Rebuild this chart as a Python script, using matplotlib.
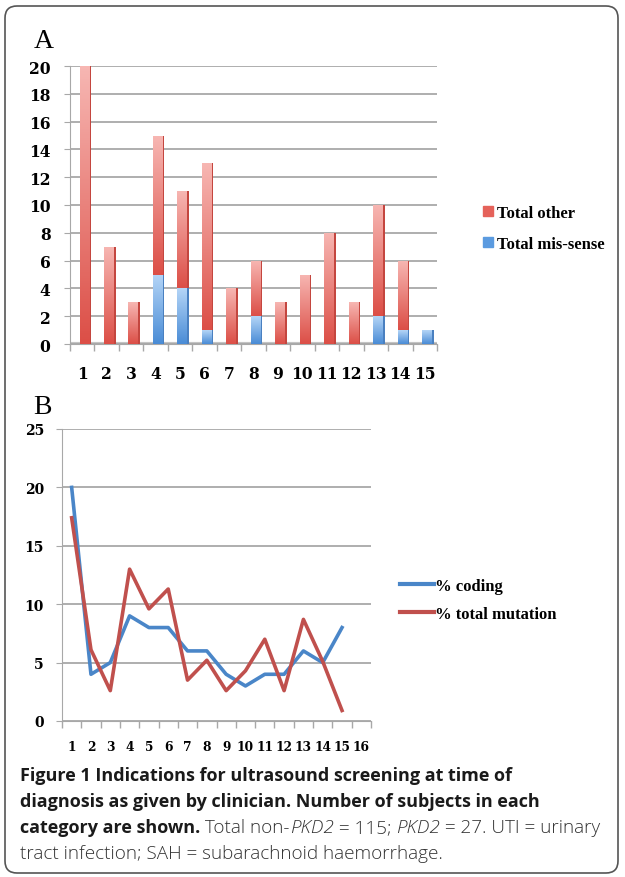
import numpy as np
import matplotlib
matplotlib.use("Agg")
import matplotlib.pyplot as plt
from matplotlib.colors import LinearSegmentedColormap
from matplotlib.patches import FancyBboxPatch, Patch
from matplotlib.lines import Line2D
from matplotlib.transforms import IdentityTransform

# ---- data (panel A: counts per indication, panel B: percentages) ----
categories = list(range(1, 16))
total_mis_sense = [0, 0, 0, 5, 4, 1, 0, 2, 0, 0, 0, 0, 2, 1, 1]
total_other = [20, 7, 3, 10, 7, 12, 4, 4, 3, 5, 8, 3, 8, 5, 0]

b_ticks = list(range(1, 17))
pct_coding = [20, 4, 5, 9, 8, 8, 6, 6, 4, 3, 4, 4, 6, 5, 8]
pct_total_mutation = [17.4, 6.1, 2.6, 13.0, 9.6, 11.3, 3.5, 5.2, 2.6, 4.3, 7.0, 2.6, 8.7, 5.1, 0.9]

W, H = 625, 878
fig = plt.figure(figsize=(W / 100, H / 100), dpi=100)

serif = "Liberation Serif"
tickfont = "DejaVu Serif"
grid_col = "#a8a8a8"


def shade(ax, bars, light, dark):
    # vertical gradient on each bar, like the excel 3d look
    cmap = LinearSegmentedColormap.from_list("g", [dark, light])
    grad = np.linspace(0, 1, 64).reshape(-1, 1)
    for b in bars:
        if b.get_height() <= 0:
            continue
        x0, y0 = b.get_x(), b.get_y()
        im = ax.imshow(grad, cmap=cmap, origin="lower", aspect="auto",
                       extent=[x0, x0 + b.get_width(), y0, y0 + b.get_height()],
                       zorder=b.get_zorder(), interpolation="bilinear")
        im.set_clip_path(b)
        b.set_facecolor("none")


def style_labels(labels, size):
    for lab in labels:
        lab.set_fontfamily(tickfont)
        lab.set_fontweight("bold")
        lab.set_fontsize(size)


# ---------------- panel A ----------------
axA = fig.add_axes([70 / W, 1 - 345 / H, 367 / W, 278 / H])
x = np.array(categories) + 0.08
fw = 0.38
sw = 0.09
b1 = axA.bar(x, total_mis_sense, width=fw, color="#5b9be0", zorder=3, linewidth=0)
b2 = axA.bar(x, total_other, width=fw, bottom=total_mis_sense, color="#e5625a", zorder=3, linewidth=0)
# side faces
axA.bar(x + fw / 2 + sw / 2, total_mis_sense, width=sw, color="#4a80c0", zorder=3, linewidth=0)
axA.bar(x + fw / 2 + sw / 2, total_other, width=sw, bottom=total_mis_sense, color="#c4463f", zorder=3, linewidth=0)
shade(axA, b1, "#b4d5f7", "#4a8cd6")
shade(axA, b2, "#f7b6b2", "#dc4f47")

axA.set_xlim(0.5, 15.5)
axA.set_ylim(0, 20)
axA.set_yticks(range(0, 21, 2))
axA.set_xticks(categories)
axA.set_xticks(np.arange(0.5, 16, 1), minor=True)
axA.tick_params(axis="x", which="major", length=0, pad=15)
axA.tick_params(axis="x", which="minor", length=5, color=grid_col, width=1)
axA.tick_params(axis="y", length=4, color=grid_col, pad=10)
axA.yaxis.grid(True, color=grid_col, lw=1.3, zorder=0)
axA.axhline(0, color="#c4c4c4", lw=3, zorder=1)
for s in ["top", "right"]:
    axA.spines[s].set_visible(False)
for s in ["left", "bottom"]:
    axA.spines[s].set_color(grid_col)
style_labels(axA.get_xticklabels() + axA.get_yticklabels(), 11.2)

axA.legend(handles=[Patch(color="#e5625a", label="Total other"),
                    Patch(color="#5b9be0", label="Total mis-sense")],
           loc="upper left", bbox_to_anchor=(475 / W, 1 - 198 / H), bbox_transform=fig.transFigure,
           frameon=False, handlelength=0.55, handleheight=0.55, handletextpad=0.25,
           labelspacing=0.9, borderpad=0, prop={"family": serif, "weight": "bold", "size": 12})

fig.text(34 / W, 1 - 42 / H, "A", family=serif, fontsize=20, va="center", ha="left")

# ---------------- panel B ----------------
axB = fig.add_axes([62 / W, 1 - 722 / H, 309 / W, 292 / H])
axB.plot(b_ticks[:15], pct_coding, color="#4a86c8", lw=2.6, label="% coding", zorder=3)
axB.plot(b_ticks[:15], pct_total_mutation, color="#c0504d", lw=2.6, label="% total mutation", zorder=3)
axB.set_xlim(0.5, 16.5)
axB.set_ylim(0, 25)
axB.set_yticks(range(0, 26, 5))
axB.set_xticks(b_ticks)
axB.set_xticks(np.arange(0.5, 17, 1), minor=True)
axB.tick_params(axis="x", which="major", length=0, pad=14)
axB.tick_params(axis="x", which="minor", length=5, color=grid_col, width=1)
axB.tick_params(axis="y", length=4, color=grid_col, pad=9)
axB.yaxis.grid(True, color=grid_col, lw=1.3, zorder=0)
for s in ["top", "right"]:
    axB.spines[s].set_visible(False)
for s in ["left", "bottom"]:
    axB.spines[s].set_color(grid_col)
style_labels(axB.get_yticklabels(), 10)
style_labels(axB.get_xticklabels(), 8.8)

axB.legend(handles=[Line2D([], [], color="#4a86c8", lw=3, label="% coding"),
                    Line2D([], [], color="#c0504d", lw=3, label="% total mutation")],
           loc="upper left", bbox_to_anchor=(392 / W, 1 - 571 / H), bbox_transform=fig.transFigure,
           frameon=False, handlelength=2.0, handletextpad=0.1,
           labelspacing=0.7, borderpad=0, prop={"family": serif, "weight": "bold", "size": 12})

fig.text(33 / W, 1 - 408 / H, "B", family=serif, fontsize=20, va="center", ha="left")

# ---------------- caption ----------------
cap = "Open Sans"
csize = 13.0
rsize = 13.6
fig.text(20 / W, 1 - 776 / H, "Figure 1 Indications for ultrasound screening at time of",
         family=cap, weight="bold", fontsize=csize, va="center", color="#1a1a1a")
fig.text(20 / W, 1 - 802 / H, "diagnosis as given by clinician. Number of subjects in each",
         family=cap, weight="bold", fontsize=csize, va="center", color="#1a1a1a")

renderer = fig.canvas.get_renderer()
pieces = [("category are shown.", "bold", "normal"),
          (" Total non-", "light", "normal"),
          ("PKD2", "light", "italic"),
          (" = 115; ", "light", "normal"),
          ("PKD2", "light", "italic"),
          (" = 27. UTI = urinary", "light", "normal")]
xpos = 20
for txt, wt, st in pieces:
    t = fig.text(xpos / W, 1 - 828 / H, txt, family=cap, weight=wt, style=st,
                 fontsize=csize if wt == "bold" else rsize, va="center",
                 color="#1a1a1a" if wt == "bold" else "#333333")
    xpos = t.get_window_extent(renderer).x1
fig.text(20 / W, 1 - 854 / H, "tract infection; SAH = subarachnoid haemorrhage.",
         family=cap, weight="light", fontsize=rsize, va="center", color="#333333")

# rounded frame round the figure
frame = FancyBboxPatch((5, 4), 613, 867, boxstyle="round,pad=0,rounding_size=12",
                       transform=IdentityTransform(), fill=False, edgecolor="#555555", lw=1.2)
fig.patches.append(frame)

fig.savefig("out.png", dpi=100)
